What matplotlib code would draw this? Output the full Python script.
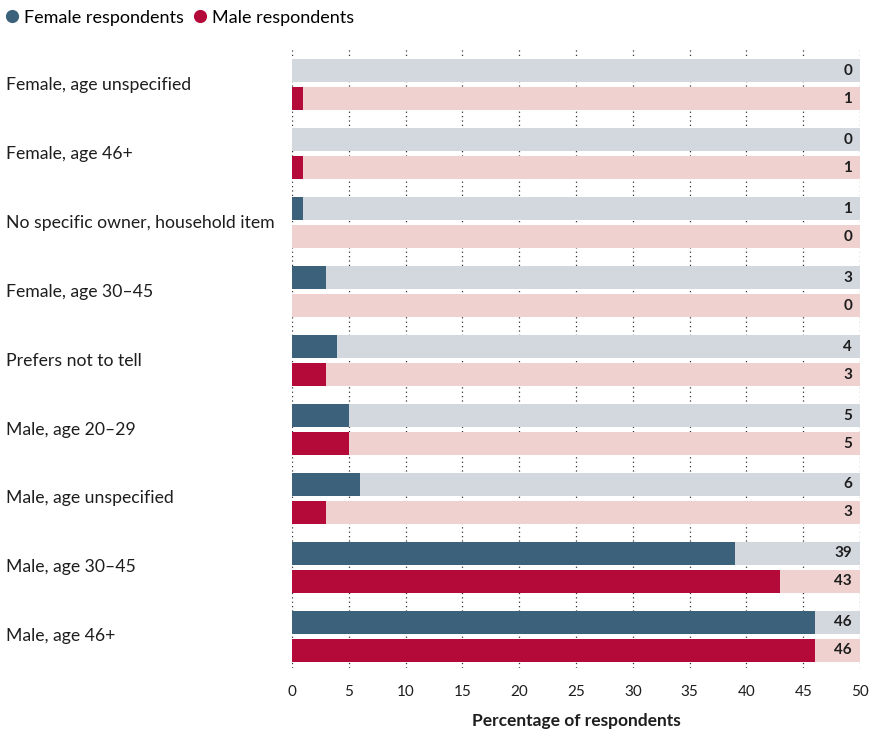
import matplotlib.pyplot as plt
from matplotlib.lines import Line2D
import matplotlib.transforms as mtransforms
import numpy as np

categories = [
    "Female, age unspecified",
    "Female, age 46+",
    "No specific owner, household item",
    "Female, age 30\u201345",
    "Prefers not to tell",
    "Male, age 20\u201329",
    "Male, age unspecified",
    "Male, age 30\u201345",
    "Male, age 46+",
]
female = [0, 0, 1, 3, 4, 5, 6, 39, 46]
male = [1, 1, 0, 0, 3, 5, 3, 43, 46]
x_max = 50
x_ticks = list(range(0, 51, 5))

FEMALE_DARK = "#3b617b"
FEMALE_LIGHT = "#d3d8df"
MALE_DARK = "#b30a3a"
MALE_LIGHT = "#efd2cf"
TEXT = "#1e1e1e"

plt.rcParams["font.family"] = ["Lato", "DejaVu Sans"]

fig = plt.figure(figsize=(8.72, 7.29), dpi=100)
ax = fig.add_axes([292 / 872, 61 / 729, 568 / 872, 620 / 729])

y = np.arange(len(categories))
bar_h = 23 / 69
off = 14 / 69

# full-width background bars, then the values on top
ax.barh(y - off, [x_max] * len(y), height=bar_h, color=FEMALE_LIGHT, zorder=2)
ax.barh(y + off, [x_max] * len(y), height=bar_h, color=MALE_LIGHT, zorder=2)
ax.barh(y - off, female, height=bar_h, color=FEMALE_DARK, zorder=3)
ax.barh(y + off, male, height=bar_h, color=MALE_DARK, zorder=3)

for yi, f, m in zip(y, female, male):
    ax.text(x_max - 0.7, yi - off, str(f), ha="right", va="center",
            fontsize=11, fontweight="bold", color=TEXT, zorder=4)
    ax.text(x_max - 0.7, yi + off, str(m), ha="right", va="center",
            fontsize=11, fontweight="bold", color=TEXT, zorder=4)

ax.set_xlim(0, x_max)
ax.set_ylim(8.457, -0.53)

# dotted vertical grid
for t in x_ticks:
    ax.axvline(t, color="#333333", linestyle=(0, (1, 2.5)), linewidth=0.9, zorder=1)

ax.set_xticks(x_ticks)
ax.set_xticklabels([str(t) for t in x_ticks], fontsize=11, color=TEXT)
ax.tick_params(axis="x", length=0, pad=12)
ax.set_yticks([])
for s in ax.spines.values():
    s.set_visible(False)

ax.set_xlabel("Percentage of respondents", fontsize=12.5, fontweight="bold",
              color=TEXT, labelpad=10)

# category labels at the left edge of the figure
trans = mtransforms.blended_transform_factory(fig.transFigure, ax.transData)
for yi, cat in zip(y, categories):
    ax.text(6 / 872, yi, cat, transform=trans, ha="left", va="center",
            fontsize=12.7, color=TEXT)

# legend
handles = [
    Line2D([0], [0], marker="o", color="w", markerfacecolor=FEMALE_DARK,
           markersize=10.5, label="Female respondents"),
    Line2D([0], [0], marker="o", color="w", markerfacecolor=MALE_DARK,
           markersize=10.5, label="Male respondents"),
]
fig.legend(handles=handles, loc="upper left", bbox_to_anchor=(-0.009, 1.0015),
           ncol=2, frameon=False, fontsize=13, handletextpad=0.15,
           columnspacing=0.4, handlelength=1.0, borderaxespad=0.2)

fig.savefig("out.png", dpi=100)
